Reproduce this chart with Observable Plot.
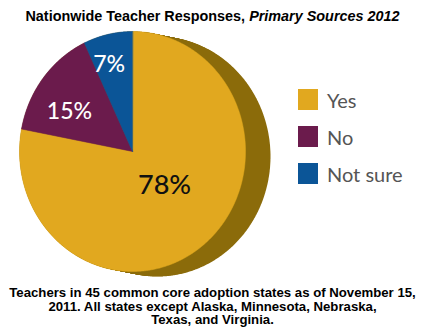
<!DOCTYPE html>
<html>
<head>
<meta charset="utf-8">
<script src="https://cdn.jsdelivr.net/npm/d3@7"></script>
<script src="https://cdn.jsdelivr.net/npm/@observablehq/plot@0.6"></script>
<style>
  html, body { margin: 0; padding: 0; background: #fff; }
  #wrap { position: relative; width: 425px; height: 336px; overflow: hidden; background: #fff; }
  #title { position: absolute; top: 6px; left: 0; width: 425px; text-align: center;
    font-family: "Liberation Sans", Arial, sans-serif; font-weight: bold; font-size: 14.4px; line-height: 20px; color: #000; }
  #chart { position: absolute; top: 26px; left: 0; }
  #legend { position: absolute; left: 298px; top: 89px; font-family: Lato, "Open Sans", sans-serif; font-size: 20px; color: #555; }
  .item { display: flex; align-items: center; height: 21px; margin-bottom: 16px; }
  .sw { width: 20px; height: 21px; margin-right: 9px; }
  #caption { position: absolute; top: 286px; left: 0; width: 425px; text-align: center;
    font-family: "Liberation Sans Narrow", "Liberation Sans", Arial, sans-serif; font-weight: bold; font-size: 13.2px; line-height: 13.5px; color: #000; }
</style>
</head>
<body>
<div id="wrap">
  <div id="title"></div>
  <div id="chart"></div>
  <div id="legend"></div>
  <div id="caption"></div>
</div>
<script>
const titleMain = "Nationwide Teacher Responses, ";
const titleItalic = "Primary Sources 2012";
const categories = ["Yes", "No", "Not sure"];
const values = [78, 15, 7];
const labels = ["78%", "15%", "7%"];
const colors = ["#E1A81F", "#6B1B4C", "#0B5597"];
const labelColors = ["#111", "#fff", "#fff"];
const shadowColor = "#8B6B0A";
const captionLines = [
  "Teachers in 45 common core adoption states as of November 15,",
  "2011. All states except Alaska, Minnesota, Nebraska,",
  "Texas, and Virginia."
];

// pie angles (clockwise from 12 o'clock)
const arcs = d3.pie().sort(null).value(d => d.value)(
  categories.map((c, i) => ({cat: c, value: values[i], label: labels[i], color: colors[i], labelColor: labelColors[i]}))
);

function arcPoints(a0, a1, withCenter) {
  const pts = withCenter ? [{x: 0, y: 0}] : [];
  const n = Math.max(2, Math.ceil((a1 - a0) / (Math.PI / 360)));
  for (let k = 0; k <= n; k++) {
    const a = a0 + (a1 - a0) * k / n;
    pts.push({x: Math.sin(a), y: Math.cos(a)});
  }
  return pts;
}

const fullCircle = arcPoints(0, 2 * Math.PI, false);
const shadowMarks = d3.range(0, 26, 1).map(k =>
  Plot.line(fullCircle, {x: "x", y: "y", fill: shadowColor, stroke: "none", curve: "linear-closed", dx: k, dy: k / 5})
);

const sliceMarks = arcs.map(a =>
  Plot.line(arcPoints(a.startAngle, a.endAngle, true), {x: "x", y: "y", fill: a.data.color, stroke: a.data.color, strokeWidth: 0.5, curve: "linear-closed"})
);

const labelData = arcs.map(a => {
  const big = a.data.value > 50;
  const frac = big ? 0.48 : 0.37;
  const ang = a.startAngle + frac * (a.endAngle - a.startAngle);
  const r = big ? 0.4 : a.data.value > 10 ? 0.65 : 0.755;
  return {x: r * Math.sin(ang), y: r * Math.cos(ang), label: a.data.label, color: a.data.labelColor, big};
});

const chart = Plot.plot({
  width: 425,
  height: 256,
  margin: 0,
  x: {domain: [-1, 1], range: [19, 245], axis: null},
  y: {domain: [-1, 1], range: [245, 5], axis: null},
  marks: [
    ...shadowMarks,
    ...sliceMarks,
    Plot.text(labelData.filter(d => d.big), {x: "x", y: "y", text: "label", fill: "color", fontSize: 27, fontWeight: 500, fontFamily: "Lato, 'Open Sans', sans-serif"}),
    Plot.text(labelData.filter(d => !d.big), {x: "x", y: "y", text: "label", fill: "color", fontSize: 23, fontWeight: 500, fontFamily: "Lato, 'Open Sans', sans-serif"})
  ]
});
chart.style.background = "transparent";
document.getElementById("chart").appendChild(chart);

const t = document.getElementById("title");
t.textContent = titleMain;
const it = document.createElement("i");
it.textContent = titleItalic;
t.appendChild(it);

const lg = document.getElementById("legend");
categories.forEach((c, i) => {
  const row = document.createElement("div");
  row.className = "item";
  const sw = document.createElement("div");
  sw.className = "sw";
  sw.style.background = colors[i];
  const tx = document.createElement("span");
  tx.textContent = c;
  row.appendChild(sw);
  row.appendChild(tx);
  lg.appendChild(row);
});

const cap = document.getElementById("caption");
captionLines.forEach((line, i) => {
  if (i) cap.appendChild(document.createElement("br"));
  cap.appendChild(document.createTextNode(line));
});
</script>
</body>
</html>
